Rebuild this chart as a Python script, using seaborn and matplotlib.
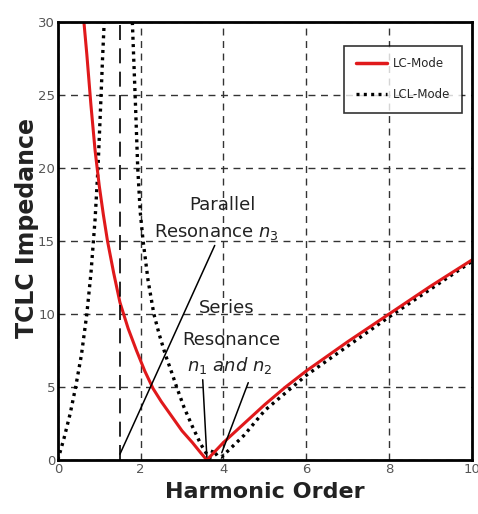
import matplotlib
matplotlib.use("Agg")
import matplotlib.pyplot as plt
import pandas as pd
import seaborn as sns
from matplotlib.lines import Line2D

# LC-mode impedance (red solid)
lc_n = [0.63, 0.7, 0.8, 0.9, 1.0, 1.1, 1.2, 1.35, 1.5, 1.7, 1.9, 2.1,
        2.3, 2.5, 2.75, 3.0, 3.25, 3.45, 3.6, 3.8, 4.0, 4.5, 5.0, 5.5,
        6.0, 7.0, 8.0, 9.0, 10.0]
lc_z = [30.0, 27.8, 24.3, 21.2, 18.8, 16.8, 15.0, 12.8, 10.8, 9.0, 7.5,
        6.1, 4.9, 4.0, 3.0, 2.0, 1.2, 0.5, 0.0, 0.6, 1.2, 2.5, 3.8, 5.0,
        6.1, 8.1, 10.0, 11.9, 13.7]

# LCL-mode impedance (black dotted), two branches around parallel resonance
lcl_left_n = [0.0, 0.15, 0.3, 0.43, 0.57, 0.7, 0.8, 0.9, 0.97, 1.03,
              1.08, 1.12]
lcl_left_z = [0.0, 1.5, 3.2, 5.0, 7.2, 10.0, 12.8, 16.5, 20.0, 24.0,
              27.5, 30.0]
lcl_right_n = [1.8, 1.84, 1.88, 1.93, 1.99, 2.06, 2.18, 2.32, 2.45, 2.6,
               2.75, 2.87, 3.05, 3.25, 3.45, 3.6, 3.67, 3.75, 3.85, 3.95,
               4.1, 4.5, 5.0, 6.0, 7.0, 8.0, 9.0, 10.0]
lcl_right_z = [30.0, 27.0, 24.0, 20.0, 17.0, 15.0, 12.3, 10.0, 8.6, 7.2,
               6.0, 5.0, 3.6, 2.3, 1.1, 0.4, 0.1, 0.7, 0.3, 0.2,
               0.6, 1.7, 3.4, 5.8, 7.8, 9.8, 11.7, 13.6]

n3 = 1.5  # parallel resonance marker

sns.set_style("white")
plt.rcParams["mathtext.fontset"] = "dejavusans"
fig = plt.figure(figsize=(4.78, 5.14), dpi=100)
ax = fig.add_axes([0.121, 0.105, 0.866, 0.852])

lc = pd.DataFrame({"n": lc_n, "z": lc_z})
left = pd.DataFrame({"n": lcl_left_n, "z": lcl_left_z})
right = pd.DataFrame({"n": lcl_right_n, "z": lcl_right_z})

dots = (0, (0.9, 1.3))
sns.lineplot(data=left, x="n", y="z", sort=False, color="black",
             linestyle=dots, linewidth=2.4, ax=ax)
sns.lineplot(data=right, x="n", y="z", sort=False, color="black",
             linestyle=dots, linewidth=2.4, ax=ax)
sns.lineplot(data=lc, x="n", y="z", sort=False, color="#e0191b",
             linewidth=2.2, ax=ax)

ax.axvline(n3, color="black", linestyle=(0, (9, 5)), linewidth=1.2)

ax.set_xlim(0, 10)
ax.set_ylim(0, 30)
ax.set_xticks([0, 2, 4, 6, 8, 10])
ax.set_yticks([0, 5, 10, 15, 20, 25, 30])
ax.grid(True, color="#333333", linestyle=(0, (5, 4)), linewidth=1.0)
ax.set_axisbelow(True)
for s in ax.spines.values():
    s.set_color("black")
    s.set_linewidth(2)
ax.tick_params(labelsize=9.5, colors="#555555", length=0, pad=2)

ax.set_xlabel("Harmonic Order", fontsize=16, fontweight="bold",
              color="#222222")
ax.xaxis.set_label_coords(0.5, -0.05)
ax.set_ylabel("TCLC Impedance", fontsize=17, fontweight="bold",
              color="#222222")
ax.yaxis.set_label_coords(-0.045, 0.53)

# annotations
tkw = dict(ha="center", va="center", fontsize=13, color="#222222")
ax.text(3.98, 17.5, "Parallel", **tkw)
ax.text(3.84, 15.6, "Resonance $n_3$", **tkw)
ax.text(4.08, 10.4, "Series", **tkw)
ax.text(4.2, 8.2, "Resonance", **tkw)
ax.text(4.15, 6.5, "$n_1$ and $n_2$", style="italic", **tkw)

ax.plot([3.79, 1.5], [14.7, 0.4], color="black", linewidth=1.1)
ax.plot([3.5, 3.6], [5.5, 0.2], color="black", linewidth=1.1)
ax.plot([4.6, 3.96], [5.3, 0.5], color="black", linewidth=1.1)

handles = [Line2D([], [], color="#e0191b", linewidth=2.5),
           Line2D([], [], color="black", linestyle=dots, linewidth=2.4)]
leg = ax.legend(handles, ["LC-Mode", "LCL-Mode"], loc="upper right",
                bbox_to_anchor=(0.99, 0.96), frameon=True,
                fancybox=False, edgecolor="black", handlelength=2.6,
                borderpad=1.0, labelspacing=1.5, handletextpad=0.5,
                prop={"size": 8.5})
leg.get_frame().set_linewidth(1.2)

fig.savefig("out.png", dpi=100)
